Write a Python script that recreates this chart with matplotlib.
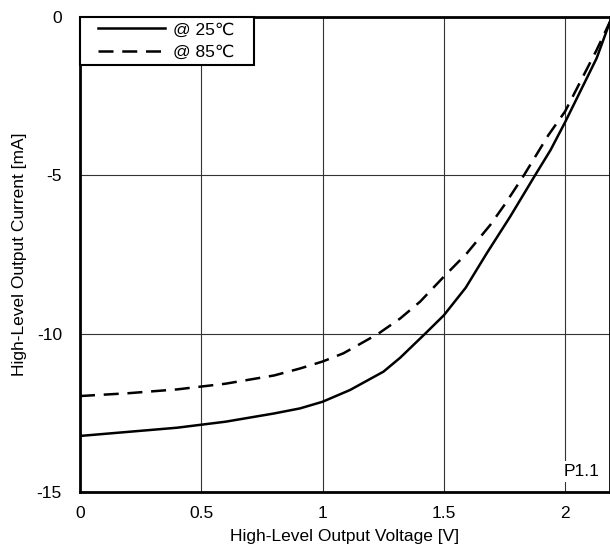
import matplotlib
matplotlib.use("Agg")
import matplotlib.pyplot as plt
from matplotlib.legend_handler import HandlerLine2D

plt.rcParams['font.family'] = ['Liberation Sans', 'DejaVu Sans']

# Data
v_25 = [0.0, 0.2, 0.4, 0.6, 0.8, 0.907, 1.0, 1.113, 1.251, 1.32, 1.423, 1.5, 1.59, 1.677,
        1.773, 1.876, 1.94, 2.0, 2.13, 2.185]
i_25 = [-13.23, -13.1, -12.97, -12.78, -12.52, -12.36, -12.15, -11.78, -11.2, -10.76, -10.0,
        -9.42, -8.55, -7.46, -6.31, -5.0, -4.2, -3.32, -1.3, -0.15]

v_85 = [0.0, 0.2, 0.4, 0.6, 0.8, 0.907, 1.0, 1.086, 1.23, 1.32, 1.402, 1.5, 1.595, 1.691,
        1.753, 1.83, 1.931, 2.0, 2.13, 2.185]
i_85 = [-11.97, -11.88, -11.76, -11.58, -11.32, -11.1, -10.88, -10.62, -10.0, -9.52, -8.99,
        -8.2, -7.46, -6.57, -5.9, -5.0, -3.73, -2.98, -1.04, -0.15]

x_ticks = [0, 0.5, 1, 1.5, 2]
x_ticklabels = ["0", "0.5", "1", "1.5", "2"]
y_ticks = [-15, -10, -5, 0]
y_ticklabels = ["-15", "-10", "-5", "0"]
labels = ["@ 25\u2103", "@ 85\u2103"]

FS = 12.5

fig = plt.figure(figsize=(6.10, 5.54), dpi=100)
ax = fig.add_axes([80/610, 1 - 492/554, 1 - 80/610, (492 - 17)/554])

l1, = ax.plot(v_25, i_25, color='black', lw=1.8, label=labels[0])
l2, = ax.plot(v_85, i_85, color='black', lw=1.8, ls=(0, (6, 3.5)), label=labels[1])

ax.set_xlim(0, 2.185)
ax.set_ylim(-15, 0)
ax.set_xticks(x_ticks)
ax.set_xticklabels(x_ticklabels)
ax.set_yticks(y_ticks)
ax.set_yticklabels(y_ticklabels)
ax.tick_params(length=0, labelsize=FS)
ax.tick_params(axis='y', pad=13)
ax.tick_params(axis='x', pad=10)
ax.grid(True, color='#333333', lw=0.8)
ax.set_axisbelow(True)
for s in ax.spines.values():
    s.set_linewidth(2)
    s.set_color('black')

ax.set_xlabel("High-Level Output Voltage [V]", fontsize=FS, labelpad=6)
ax.set_ylabel("High-Level Output Current [mA]", fontsize=FS, labelpad=7)

hm = {l1: HandlerLine2D(xpad=0.75), l2: HandlerLine2D(xpad=0.75)}
leg = ax.legend(loc='upper left', bbox_to_anchor=(0, 1, (254 - 80) / 530, 0), mode='expand',
                borderaxespad=0, fancybox=False, edgecolor='black', framealpha=1,
                fontsize=FS, handlelength=4.6, handletextpad=0.45, borderpad=0.3,
                labelspacing=0.44, handler_map=hm)
leg.get_frame().set_linewidth(1.5)

ax.text(1.995, -14.35, "P1.1", fontsize=FS, ha='left', va='center',
        bbox=dict(facecolor='white', edgecolor='none', pad=2))

fig.savefig("out.png", dpi=100)
